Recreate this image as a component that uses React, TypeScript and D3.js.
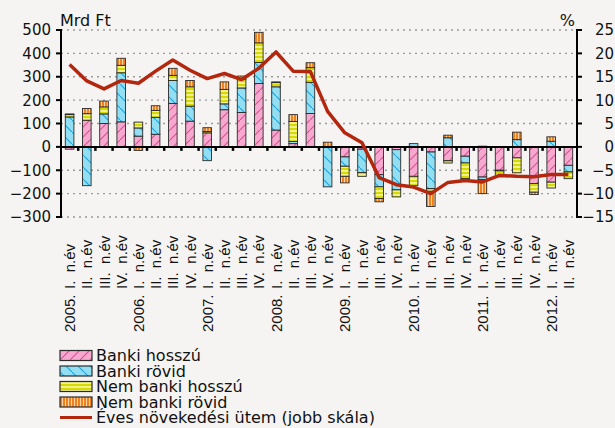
import React from "react";
import * as d3 from "d3";

const quarters = ["I.", "II.", "III.", "IV."];
const years = ["2005.", "2006.", "2007.", "2008.", "2009.", "2010.", "2011.", "2012."];
const categories: { q: string; y: string | null }[] = [];
years.forEach((y, yi) => {
  const n = yi === years.length - 1 ? 2 : 4;
  for (let i = 0; i < n; i++) categories.push({ q: quarters[i], y: i === 0 ? y : null });
});

const bankiHosszu = [-10, 114, 100, 107, 46, 54, 186, 110, 60, 159, 147, 271, 72, 14, 143, -3, -43, -10, -119, -12, -126, -22, -59, -40, -129, -100, -47, -157, -151, -79];
const bankiRovid = [128, -166, 41, 210, 35, 72, 98, 64, -59, 25, 105, 90, 185, 9, 133, -168, -40, -100, -52, -172, 14, -156, 39, -29, -11, -3, 31, 0, 24, -28];
const nemBankiHosszu = [10, 28, 30, 32, 25, 30, 22, 83, 6, 62, 38, 84, 18, 86, 63, 2, -43, -16, -50, -30, -40, -12, -10, -67, 3, -20, -64, -37, -25, -29];
const nemBankiRovid = [3, 22, 25, 30, -15, 20, 30, 27, 16, 32, 13, 45, 3, 29, 21, 18, -28, 0, -14, 0, 0, -65, 11, -3, -60, 0, 32, -10, 19, 0];
const evesNovekedes = [17.6, 14.1, 12.4, 14.2, 13.6, 16.2, 18.6, 16.4, 14.6, 15.7, 14.4, 16.8, 20.3, 16.2, 16.1, 7.6, 3.0, 0.9, -6.6, -8.1, -8.6, -10.0, -7.6, -7.2, -7.5, -6.1, -6.3, -6.4, -5.9, -5.9];

const leftTicks = [-300, -200, -100, 0, 100, 200, 300, 400, 500];
const rightTicks = [-15, -10, -5, 0, 5, 10, 15, 20, 25];

const seriesNames = ["Banki hosszú", "Banki rövid", "Nem banki hosszú", "Nem banki rövid"];
const lineName = "Éves növekedési ütem (jobb skála)";
const seriesData = [bankiHosszu, bankiRovid, nemBankiHosszu, nemBankiRovid];
const patternIds = ["pPink", "pBlue", "pYellow", "pOrange"];

const W = 615, H = 428;
const L = 61, R = 577, T = 30, B = 217;
const lineColor = "#B3270F";
const numFont = "'DejaVu Sans', sans-serif";
const lblFont = "'Liberation Sans', Arial, sans-serif";

export default function App() {
  const x = d3.scaleBand<number>().domain(d3.range(categories.length)).range([L, R]).paddingInner(0.5).paddingOuter(0.25);
  const yL = d3.scaleLinear().domain([-300, 500]).range([B, T]);
  const yR = d3.scaleLinear().domain([-15, 25]).range([B, T]);
  const fmt = d3.format("d");

  const segs: { i: number; s: number; y0: number; y1: number }[] = [];
  categories.forEach((_, i) => {
    let pos = 0, neg = 0;
    seriesData.forEach((arr, s) => {
      const v = arr[i];
      if (v >= 0) { segs.push({ i, s, y0: pos, y1: pos + v }); pos += v; }
      else { segs.push({ i, s, y0: neg + v, y1: neg }); neg += v; }
    });
  });

  const bw = x.bandwidth();
  const step = x.step();
  const line = d3.line<number>().x((_, i) => (x(i) as number) + bw / 2).y(d => yR(d)).curve(d3.curveLinear);

  const legendY0 = 355.5, legendDy = 15.5;

  return (
    <div style={{ position: "fixed", left: 0, top: 0 }}>
      <svg width={W} height={H} style={{ display: "block", background: "#F5F4F2" }}>
        <defs>
          <pattern id="pPink" patternUnits="userSpaceOnUse" width="10" height="10">
            <rect width="10" height="10" fill="#F6A8CF" />
            <path d="M0,10 L10,0" stroke="#E8479C" strokeWidth="1.1" />
          </pattern>
          <pattern id="pBlue" patternUnits="userSpaceOnUse" width="12" height="12">
            <rect width="12" height="12" fill="#92DEF2" />
            <path d="M0,0 L12,12" stroke="#1FA3D6" strokeWidth="1.1" />
          </pattern>
          <pattern id="pYellow" patternUnits="userSpaceOnUse" width="4" height="4">
            <rect width="4" height="4" fill="#F0F08C" />
            <rect width="4" height="2" fill="#D6DA00" />
          </pattern>
          <pattern id="pOrange" patternUnits="userSpaceOnUse" width="3" height="4">
            <rect width="3" height="4" fill="#F0821E" />
            <rect x="2" width="1" height="4" fill="#FFD2A6" />
          </pattern>
        </defs>

        {/* grid */}
        {leftTicks.filter(t => t !== 0).map(t => (
          <line key={"g" + t} x1={L} x2={R} y1={yL(t)} y2={yL(t)} stroke="#9a9a9a" strokeWidth={1.3} strokeDasharray="2,4" />
        ))}

        {/* bars */}
        {segs.filter(d => d.y1 !== d.y0).map((d, k) => (
          <rect key={"b" + k} x={x(d.i)} width={bw} y={yL(d.y1)} height={yL(d.y0) - yL(d.y1)}
            fill={`url(#${patternIds[d.s]})`} stroke="#2b2b2b" strokeWidth={0.9} />
        ))}

        {/* zero line + category ticks */}
        <line x1={L} x2={R} y1={yL(0)} y2={yL(0)} stroke="#000" strokeWidth={2} />
        {d3.range(1, categories.length).map(i => {
          const xx = (x(i) as number) - (step - bw) / 2;
          return <line key={"xt" + i} x1={xx} x2={xx} y1={yL(0)} y2={yL(0) + 4} stroke="#000" strokeWidth={2.5} />;
        })}

        {/* growth line */}
        <path d={line(evesNovekedes) as string} fill="none" stroke={lineColor} strokeWidth={3.5} strokeLinejoin="round" />

        {/* left axis */}
        <line x1={L} x2={L} y1={T - 1} y2={B + 1} stroke="#000" strokeWidth={2} />
        {leftTicks.map(t => (
          <g key={"lt" + t}>
            <line x1={L - 5} x2={L} y1={yL(t)} y2={yL(t)} stroke="#000" strokeWidth={2} />
            <text x={L - 10} y={yL(t)} dy="0.36em" textAnchor="end" fontFamily={numFont} fontSize={15} fill="#111">{fmt(t)}</text>
          </g>
        ))}
        <text x={60} y={26} fontFamily={numFont} fontSize={16} fill="#111">Mrd Ft</text>

        {/* right axis */}
        <line x1={R} x2={R} y1={T - 1} y2={B + 1} stroke="#000" strokeWidth={2} />
        {rightTicks.map(t => (
          <g key={"rt" + t}>
            <line x1={R} x2={R + 5} y1={yR(t)} y2={yR(t)} stroke="#000" strokeWidth={2} />
            <text x={614} y={yR(t)} dy="0.36em" textAnchor="end" fontFamily={numFont} fontSize={15} fill="#111">{fmt(t)}</text>
          </g>
        ))}
        <text x={575} y={26} textAnchor="end" fontFamily={numFont} fontSize={16} fill="#111">%</text>

        {/* x labels */}
        {categories.map((c, i) => {
          const cx = (x(i) as number) + bw / 2;
          return (
            <g key={"xl" + i}>
              <text transform={`translate(${cx},289) rotate(-90)`} dominantBaseline="central" fontFamily={lblFont} fontSize={15} fill="#111">
                {c.q + "\u00A0\u00A0n.év"}
              </text>
              {c.y && (
                <text transform={`translate(${cx},332) rotate(-90)`} dominantBaseline="central" fontFamily={lblFont} fontSize={15} fill="#111">
                  {c.y}
                </text>
              )}
            </g>
          );
        })}

        {/* legend */}
        {seriesNames.map((n, s) => (
          <g key={"lg" + s}>
            <rect x={60} y={legendY0 + s * legendDy - 5} width={32} height={10} fill={`url(#${patternIds[s]})`} stroke="#2b2b2b" strokeWidth={1.2} />
            <text x={96} y={legendY0 + s * legendDy} dy="0.36em" fontFamily={numFont} fontSize={16} fill="#111">{n}</text>
          </g>
        ))}
        <line x1={60} x2={92} y1={legendY0 + 4 * legendDy} y2={legendY0 + 4 * legendDy} stroke={lineColor} strokeWidth={3} />
        <text x={96} y={legendY0 + 4 * legendDy} dy="0.36em" fontFamily={numFont} fontSize={16} fill="#111">{lineName}</text>
      </svg>
    </div>
  );
}
